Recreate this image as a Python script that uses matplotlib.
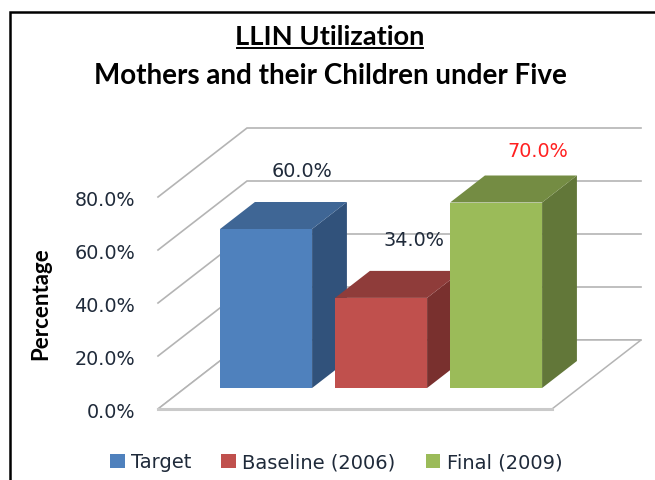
import matplotlib
matplotlib.use("Agg")
import matplotlib.pyplot as plt
from matplotlib.patches import Polygon, Patch
from matplotlib.lines import Line2D

W, H = 655, 481

# ---- data ----
categories = ["Target", "Baseline (2006)", "Final (2009)"]
values = [60.0, 34.0, 70.0]
value_labels = ["60.0%", "34.0%", "70.0%"]
label_colors = ["#1F2A3A", "#1F2A3A", "#FF2020"]
ticks = [0, 20, 40, 60, 80]
tick_labels = ["0.0%", "20.0%", "40.0%", "60.0%", "80.0%"]
title_line1 = "LLIN Utilization"
title_line2 = "Mothers and their Children under Five"
ylabel = "Percentage"

# ---- style ----
front_colors = ["#4F81BD", "#C0504D", "#9BBB59"]
top_colors = ["#3F6695", "#8F3C3A", "#748C43"]
side_colors = ["#31527B", "#79302E", "#627739"]
label_offsets_px = [(36, 58), (32.5, 58), (42, 51.5)]

PX_PER_CAT = 115.0
PX_PER_VAL = 2.65
X0_PX = 239.0      # pixel x of category 0 at depth 0
Y0_PX = 410.0      # pixel y of value 0 at depth 0
DEPTH_X = 89.0 / PX_PER_CAT
DEPTH_Y = 69.0 / PX_PER_VAL
BAR_W = 92.0 / PX_PER_CAT
BAR_D0 = 21.0 / 69.0
BAR_D1 = 48.0 / 69.0
FLOOR_L = (158.0 - X0_PX) / PX_PER_CAT
FLOOR_R = (552.0 - X0_PX) / PX_PER_CAT


def proj(c, v, d):
    return (c + d * DEPTH_X, v + d * DEPTH_Y)


fig = plt.figure(figsize=(W / 100, H / 100), dpi=100, facecolor="white")
ax = fig.add_axes([0, 0, 1, 1])
ax.set_xlim(-X0_PX / PX_PER_CAT, (W - X0_PX) / PX_PER_CAT)
ax.set_ylim((Y0_PX - H) / PX_PER_VAL, Y0_PX / PX_PER_VAL)
ax.axis("off")

GRID = "#B4B4B4"
# wall gridlines
for t in ticks:
    pts = [proj(FLOOR_L, t, 0), proj(FLOOR_L, t, 1), proj(FLOOR_R, t, 1)]
    ax.plot(*zip(*pts), color=GRID, lw=1.2, solid_joinstyle="miter", zorder=1)

# floor
ax.add_patch(Polygon([proj(FLOOR_L, 0, 0), proj(FLOOR_L, 0, 1),
                      proj(FLOOR_R, 0, 1), proj(FLOOR_R, 0, 0)],
                     closed=True, fc="white", ec=GRID, lw=1.1, zorder=2))
ax.plot(*zip(proj(FLOOR_L, 0, 0), proj(FLOOR_R, 0, 0)), color="#CACACA", lw=2.2, zorder=3)

# bars
for i, v in enumerate(values):
    l, r = i - BAR_W / 2, i + BAR_W / 2
    z = 5 + i
    ax.add_patch(Polygon([proj(r, 0, BAR_D0), proj(r, v, BAR_D0), proj(r, v, BAR_D1), proj(r, 0, BAR_D1)],
                         closed=True, fc=side_colors[i], ec="none", zorder=z))
    ax.add_patch(Polygon([proj(l, v, BAR_D0), proj(l, v, BAR_D1), proj(r, v, BAR_D1), proj(r, v, BAR_D0)],
                         closed=True, fc=top_colors[i], ec="none", zorder=z))
    ax.add_patch(Polygon([proj(l, 0, BAR_D0), proj(l, v, BAR_D0), proj(r, v, BAR_D0), proj(r, 0, BAR_D0)],
                         closed=True, fc=front_colors[i], ec="none", zorder=z))
    cx, cy = proj(i, v, BAR_D0)
    dx, dy = label_offsets_px[i]
    ax.text(cx + dx / PX_PER_CAT, cy + dy / PX_PER_VAL, value_labels[i], color=label_colors[i],
            fontsize=13.8, ha="center", va="center", zorder=10)

# tick labels
for t, s in zip(ticks, tick_labels):
    ax.text((135 - X0_PX) / PX_PER_CAT, t - 0.9, s, color="#1F2A3A", fontsize=13.8,
            ha="right", va="center", zorder=10)

# axis title
ax.text((41 - X0_PX) / PX_PER_CAT, (Y0_PX - 304) / PX_PER_VAL, ylabel, rotation=90,
        family="Lato", fontweight="bold", fontsize=16, color="black", ha="center", va="center")

# chart title
ax.text((330 - X0_PX) / PX_PER_CAT, (Y0_PX - 37) / PX_PER_VAL, title_line1,
        family="Lato", fontweight="bold", fontsize=19.6, color="black", ha="center", va="center")
ax.plot([(237 - X0_PX) / PX_PER_CAT, (423 - X0_PX) / PX_PER_CAT],
        [(Y0_PX - 48.5) / PX_PER_VAL] * 2, color="black", lw=1.4)
ax.text((330.5 - X0_PX) / PX_PER_CAT, (Y0_PX - 76) / PX_PER_VAL, title_line2,
        family="Lato", fontweight="bold", fontsize=20, color="black", ha="center", va="center")

# legend
handles = [Patch(fc=c, ec="none", label=n) for c, n in zip(front_colors, categories)]
fig.legend(handles=handles, ncols=3, frameon=False, fontsize=14, labelcolor="#1F2A3A",
           loc="center", bbox_to_anchor=(336 / W, 1 - 463 / H), borderpad=0, borderaxespad=0,
           handlelength=0.76, handleheight=0.76, handletextpad=0.32, columnspacing=1.55)

# partial frame: top and left edges only
fig.add_artist(Line2D([9.5 / W, 9.5 / W, 1], [0, 1 - 13 / H, 1 - 13 / H], color="black", lw=1.8,
                      solid_joinstyle="miter"))

fig.savefig("out.png", dpi=100, facecolor="white")
